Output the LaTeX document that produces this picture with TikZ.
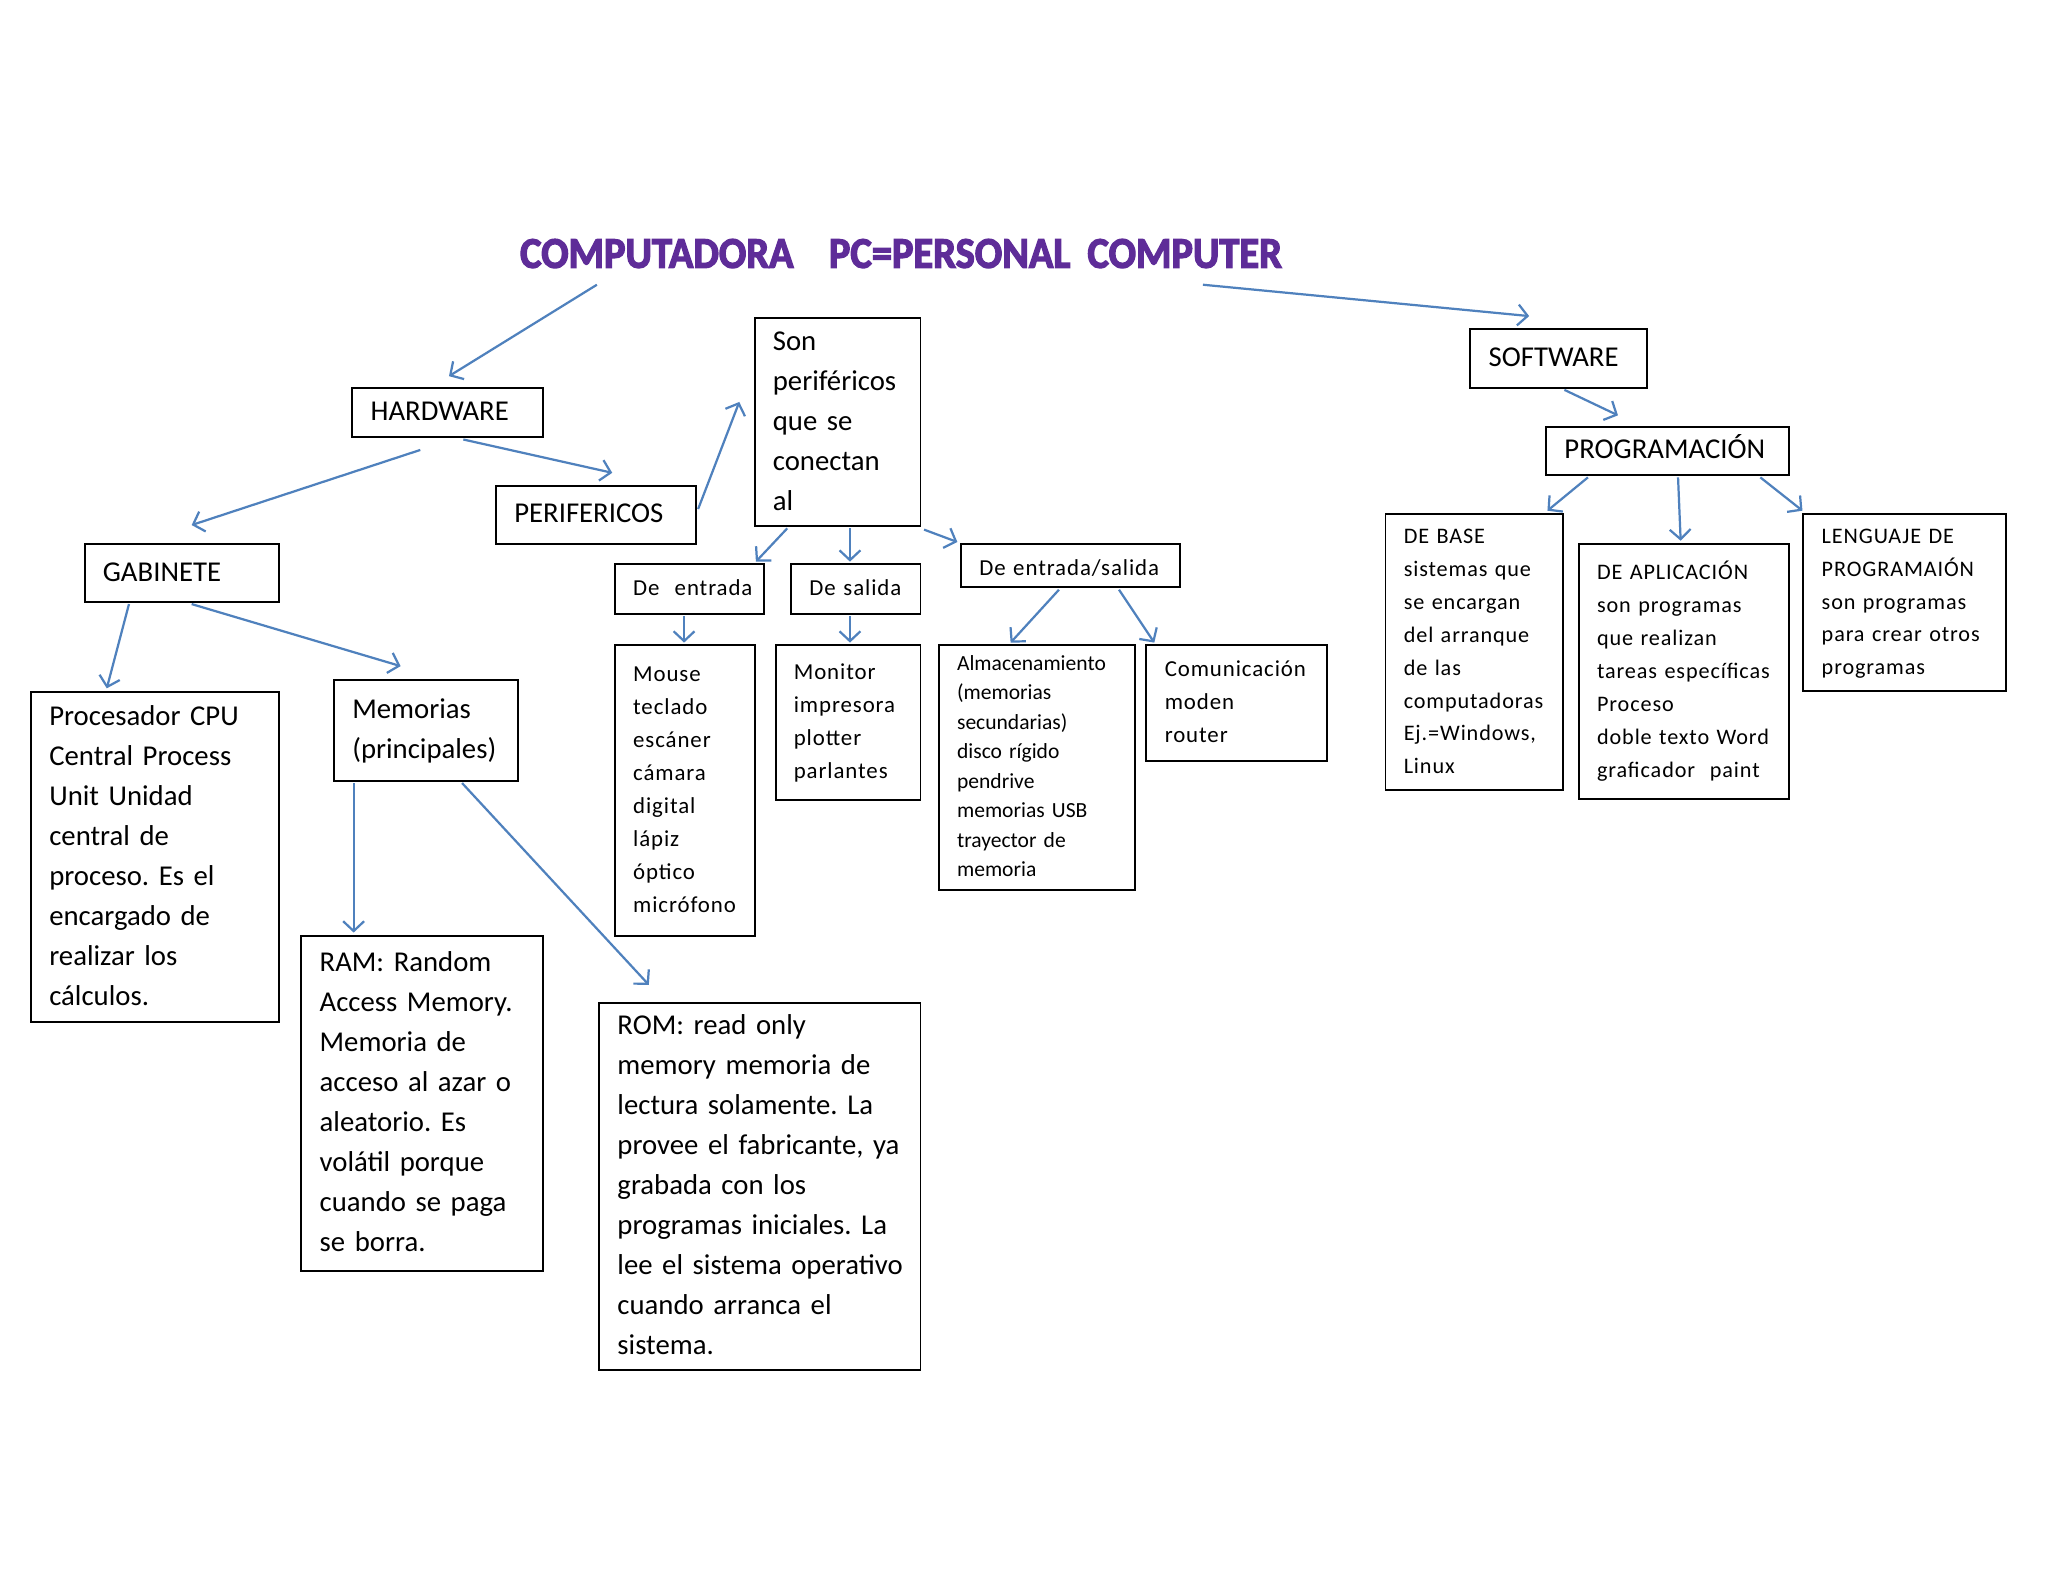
\documentclass[tikz,border=0pt]{standalone}
\usepackage{fontspec}
\setmainfont{Carlito}
\newfontfamily\spacedfont[LetterSpace=4]{Carlito}
\newfontfamily\titlefont[FakeBold=3]{Carlito Bold}
\usetikzlibrary{arrows.meta,calc}
\definecolor{arrowblue}{RGB}{79,129,189}
\definecolor{titlepurple}{RGB}{94,44,152}
\frenchspacing
\newcommand{\bigtxt}{\fontsize{22}{30.6}\selectfont}
\newcommand{\smalltxt}{\spacedfont\fontsize{17.5}{25.3}\selectfont}
\newcommand{\smallertxt}{\spacedfont\fontsize{17}{25.2}\selectfont}
\newcommand{\almtxt}{\fontsize{16.5}{22.6}\selectfont}
\newcommand{\boxlines}[1]{\begin{tabular}{@{}l@{}}#1\end{tabular}}
\tikzset{
  box/.style={draw=black, line width=1.5pt, anchor=north west, inner sep=0pt, align=left},
  con/.style={draw=arrowblue, line width=1.7pt, -{Straight Barb[length=7.5pt,width=16pt,line width=1.7pt]}},
}
\begin{document}
\begin{tikzpicture}[x=1pt,y=-1pt]
\fill[white] (0,0) rectangle (1568,1211.2);
\useasboundingbox (0,0) rectangle (1568,1211.2);

% title
\node[anchor=base west, inner sep=0pt, text=titlepurple, yscale=1.08, font=\titlefont\fontsize{31}{31}\selectfont] (title) at (398,205)
  {COMPUTADORA\hspace{27pt}PC=PERSONAL\hspace{13pt}COMPUTER};

% boxes
\node[box,font=\bigtxt,minimum width=146pt,minimum height=38pt,text width=118pt] (hw) at (269,296) {\boxlines{HARDWARE}};
\node[box,font=\bigtxt,minimum width=153pt,minimum height=45pt,text width=125pt] (per) at (379,371) {\boxlines{PERIFERICOS}};
\node[box,font=\bigtxt,minimum width=149pt,minimum height=44pt,text width=121pt] (gab) at (64,416) {\boxlines{GABINETE}};
\node[box,font=\bigtxt,minimum width=127pt,minimum height=159pt,text width=99pt] (son) at (577,243)
  {\boxlines{Son\\ periféricos\\ que se\\ conectan\\ al}};
\node[box,font=\bigtxt,minimum width=135pt,minimum height=45pt,text width=107pt] (sw) at (1125,251) {\boxlines{SOFTWARE}};
\node[box,font=\bigtxt,minimum width=186pt,minimum height=37pt,text width=158pt] (prog) at (1183,326) {\boxlines{PROGRAMACIÓN}};

\node[box,font=\smalltxt,minimum width=114pt,minimum height=38pt,text width=86pt] (ent) at (470,431) {\boxlines{De~ entrada}};
\node[box,font=\smalltxt,minimum width=99pt,minimum height=38pt,text width=71pt] (sal) at (605,431) {\boxlines{De salida}};
\node[box,font=\smalltxt,minimum width=168pt,minimum height=33pt,text width=140pt] (es) at (735,416) {\boxlines{\raisebox{-2pt}{De entrada/salida}}};

\node[box,font=\smalltxt,minimum width=107pt,minimum height=223pt,text width=79pt] (mouse) at (470,493)
  {\boxlines{Mouse\\ teclado\\ escáner\\ cámara\\ digital\\ lápiz\\ óptico\\ micrófono}};
\node[box,font=\smalltxt,minimum width=111pt,minimum height=119pt,text width=83pt] (mon) at (593,493)
  {\boxlines{Monitor\\ impresora\\ plotter\\ parlantes}};
\node[box,font=\almtxt,minimum width=150pt,minimum height=188pt,text width=122pt] (alm) at (718,493)
  {\boxlines{Almacenamiento\\ (memorias\\ secundarias)\\ disco rígido\\ pendrive\\ memorias USB\\ trayector de\\ memoria}};
\node[box,font=\smalltxt,minimum width=138pt,minimum height=89pt,text width=110pt] (com) at (877,493)
  {\boxlines{Comunicación\\ moden\\ router}};

\node[box,font=\bigtxt,minimum width=190pt,minimum height=253pt,text width=162pt] (proc) at (23,529)
  {\boxlines{Procesador CPU\\ Central Process\\ Unit Unidad\\ central de\\ proceso. Es el\\ encargado de\\ realizar los\\ cálculos.}};
\node[box,font=\bigtxt,minimum width=141pt,minimum height=77pt,text width=113pt] (mem) at (255,520)
  {\boxlines{Memorias\\ (principales)}};
\node[box,font=\bigtxt,minimum width=185pt,minimum height=256pt,text width=157pt] (ram) at (230,716)
  {\boxlines{RAM: Random\\ Access Memory.\\ Memoria de\\ acceso al azar o\\ aleatorio. Es\\ volátil porque\\ cuando se paga\\ se borra.}};
\node[box,font=\bigtxt,minimum width=246pt,minimum height=281pt,text width=218pt] (rom) at (458,767)
  {\boxlines{ROM: read only\\ memory memoria de\\ lectura solamente. La\\ provee el fabricante, ya\\ grabada con los\\ programas iniciales. La\\ lee el sistema operativo\\ cuando arranca el\\ sistema.}};

\node[box,font=\smallertxt,minimum width=136pt,minimum height=211pt,text width=108pt] (base) at (1060,393)
  {\boxlines{DE BASE\\ sistemas que\\ se encargan\\ del arranque\\ de las\\ computadoras\\ Ej.=Windows,\\ Linux}};
\node[box,font=\smallertxt,minimum width=161pt,minimum height=195pt,text width=133pt] (apl) at (1208,416)
  {\boxlines{DE APLICACIÓN\\ son programas\\ que realizan\\ tareas específicas\\ Proceso\\ doble texto Word\\ graficador~ paint}};
\node[box,font=\smallertxt,minimum width=155pt,minimum height=135pt,text width=127pt] (len) at (1380,393)
  {\boxlines{LENGUAJE DE\\ PROGRAMAIÓN\\ son programas\\ para crear otros\\ programas}};

% connectors
\draw[con] ($(title.base west)+(59,13)$) -- ($(hw.north)+(1,-8)$);
\draw[con] ($(title.base west)+(523,13)$) -- ($(sw.north)+(-22.5,-9)$);
\draw[con] ($(hw.south)+(-21,9)$) -- ($(gab.north)+(7.5,-14)$);
\draw[con] ($(hw.south)+(12,1)$) -- ($(per.north)+(12.5,-9)$);
\draw[con] ($(per.east)+(1,-4.5)$) -- ($(son.west)+(-11,-15.5)$);
\draw[con] ($(gab.south)+(-40.5,1)$) -- ($(proc.north)+(-37,-2)$);
\draw[con] ($(gab.south)+(7.5,1)$) -- ($(mem.north)+(-19.5,-10)$);
\draw[con] ($(mem.south)+(-55.5,1)$) -- ($(ram.north)+(-52.5,-2)$);
\draw[con] ($(mem.south)+(27.5,1)$) -- ($(rom.north)+(-85,-13)$);
\draw[con] ($(son.south)+(-38.5,1)$) -- ($(ent.north)+(51,-1)$);
\draw[con] ($(son.south)+(9.5,1)$) -- ($(sal.north)+(-4.5,-1)$);
\draw[con] ($(son.south east)+(2,2)$) -- ($(es.north west)+(-2,-1)$);
\draw[con] ($(ent.south)+(-4,1)$) -- ($(mouse.north)+(-0.5,-1)$);
\draw[con] ($(sal.south)+(-4.5,1)$) -- ($(mon.north)+(1.5,-1)$);
\draw[con] ($(es.south)+(-9,1)$) -- ($(alm.north)+(-20,-1)$);
\draw[con] ($(es.south)+(37,1)$) -- ($(com.north)+(-63,-1)$);
\draw[con] ($(sw.south)+(4.5,1)$) -- ($(prog.north)+(-38,-8)$);
\draw[con] ($(prog.south)+(-61,1)$) -- ($(base.north)+(56,-2)$);
\draw[con] ($(prog.south)+(8,1)$) -- ($(apl.north)+(-2.5,-2)$);
\draw[con] ($(prog.south)+(71,1)$) -- ($(len.north west)+(0,-2)$);
\end{tikzpicture}
\end{document}
